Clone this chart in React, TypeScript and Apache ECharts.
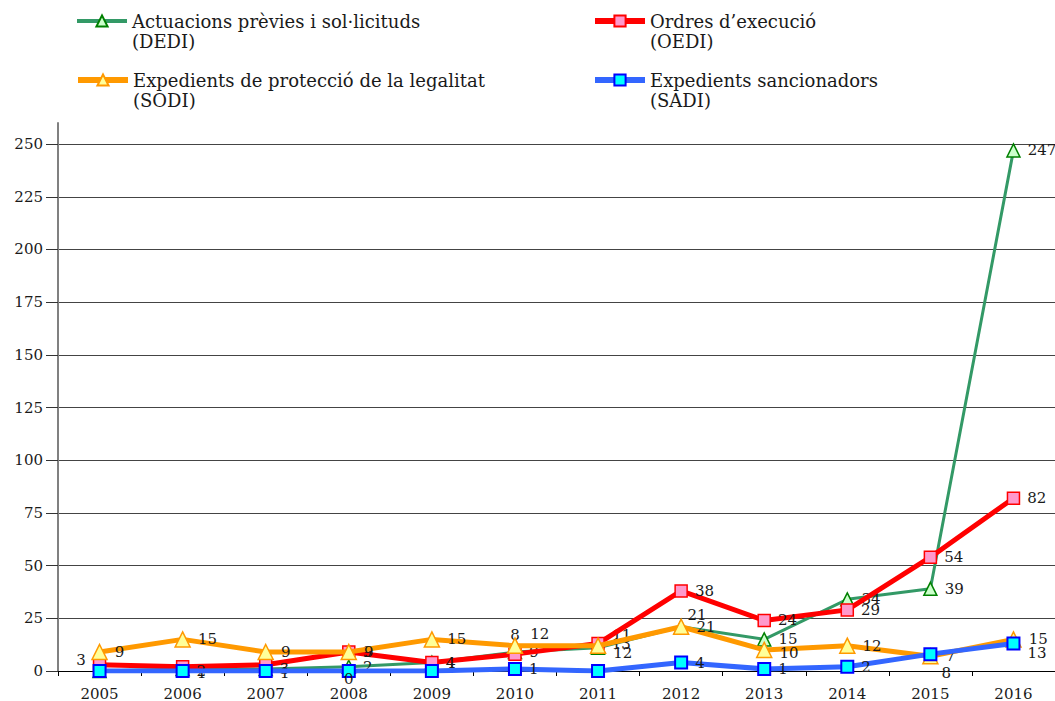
import { useEffect, useRef } from 'react';
import * as echarts from 'echarts';

const years = ['2005', '2006', '2007', '2008', '2009', '2010', '2011', '2012', '2013', '2014', '2015', '2016'];
const dediValues = [0, 1, 1, 2, 4, 9, 11, 21, 15, 34, 39, 247];
const oediValues = [3, 2, 3, 9, 4, 8, 13, 38, 24, 29, 54, 82];
const sodiValues = [9, 15, 9, 9, 15, 12, 12, 21, 10, 12, 7, 15];
const sadiValues = [0, 0, 0, 0, 0, 1, 0, 4, 1, 2, 8, 13];
const yTicks = [0, 25, 50, 75, 100, 125, 150, 175, 200, 225, 250];

const dediName = 'Actuacions prèvies i sol·licituds\n(DEDI)';
const oediName = 'Ordres d’execució\n(OEDI)';
const sodiName = 'Expedients de protecció de la legalitat\n(SODI)';
const sadiName = 'Expedients sancionadors\n(SADI)';

const FONT = 'DejaVu Serif';

type Tweak = { show?: boolean; position?: string; offset?: number[]; distance?: number };

const dediTweaks: Record<number, Tweak> = {
  0: { show: false },
  1: { offset: [0, 4] },
  2: { offset: [0, 4] },
  6: { offset: [0, -13] },
  7: { offset: [-8, -12] },
};
const oediTweaks: Record<number, Tweak> = {
  0: { position: 'left', offset: [0, -5] },
  1: { offset: [0, 4] },
  2: { offset: [0, 4] },
  5: { position: 'top', distance: 5 },
};
const sodiTweaks: Record<number, Tweak> = {
  5: { offset: [0, -12] },
  6: { offset: [0, 7] },
  8: { offset: [0, 3] },
};
const sadiTweaks: Record<number, Tweak> = {
  0: { show: false },
  1: { show: false },
  2: { show: false },
  3: { position: 'bottom', distance: 1, offset: [0, -8] },
  4: { show: false },
  6: { show: false },
  10: { position: 'bottom', offset: [16, -3] },
  11: { offset: [0, 9] },
};

function withLabels(values: number[], tweaks: Record<number, Tweak>) {
  return values.map((v, i) => (tweaks[i] ? { value: v, label: tweaks[i] } : v));
}

export default function App() {
  const ref = useRef<HTMLDivElement>(null);
  useEffect(() => {
    if (!ref.current) return;
    const chart = echarts.init(ref.current, undefined, { renderer: 'svg' });
    const label = {
      show: true,
      position: 'right',
      distance: 7,
      fontFamily: FONT,
      fontSize: 15,
      color: '#1a1a1a',
    };
    const legendBase = {
      orient: 'horizontal',
      padding: 0,
      itemWidth: 50,
      itemHeight: 14,
      itemGap: 4,
      selectedMode: false,
      formatter: (n: string) => '\n' + n,
      textStyle: { fontFamily: FONT, fontSize: 18, lineHeight: 20, color: '#1a1a1a' },
    };
    chart.setOption({
      animation: false,
      backgroundColor: '#ffffff',
      textStyle: { fontFamily: FONT },
      legend: [
        { ...legendBase, left: 75, top: -9, data: [dediName], lineStyle: { width: 4 } },
        { ...legendBase, left: 592, top: -9, data: [oediName], lineStyle: { width: 6 } },
        { ...legendBase, left: 75, top: 50, data: [sodiName], lineStyle: { width: 6 } },
        { ...legendBase, left: 592, top: 50, data: [sadiName], lineStyle: { width: 6 } },
      ],
      grid: { left: 58, top: 123, width: 998, bottom: 30, containLabel: false },
      xAxis: {
        type: 'category',
        data: years,
        boundaryGap: true,
        axisLine: { lineStyle: { color: '#000000', width: 1 } },
        axisTick: { show: true, length: 5, lineStyle: { color: '#000000' } },
        axisLabel: { fontFamily: FONT, fontSize: 15, color: '#1a1a1a', margin: 15 },
      },
      yAxis: {
        type: 'value',
        min: 0,
        max: 260,
        interval: 25,
        axisLine: { show: true, lineStyle: { color: '#808080', width: 2 } },
        axisTick: { show: true, length: 12, lineStyle: { color: '#333333' }, customValues: yTicks },
        axisLabel: {
          fontFamily: FONT,
          fontSize: 15,
          color: '#1a1a1a',
          margin: 15,
          customValues: yTicks,
        },
        splitLine: { show: true, lineStyle: { color: '#444444', width: 1 } },
      },
      series: [
        {
          name: dediName,
          type: 'line',
          data: withLabels(dediValues, dediTweaks),
          symbol: 'triangle',
          symbolSize: 13,
          lineStyle: { color: '#339966', width: 3 },
          itemStyle: { color: '#CCFFCC', borderColor: '#008000', borderWidth: 1.5 },
          label,
          z: 2,
        },
        {
          name: oediName,
          type: 'line',
          data: withLabels(oediValues, oediTweaks),
          symbol: 'rect',
          symbolSize: 12,
          lineStyle: { color: '#FF0000', width: 5 },
          itemStyle: { color: '#FF99CC', borderColor: '#FF0000', borderWidth: 1.5 },
          label,
          z: 3,
        },
        {
          name: sodiName,
          type: 'line',
          data: withLabels(sodiValues, sodiTweaks),
          symbol: 'triangle',
          symbolSize: 15,
          lineStyle: { color: '#FF9900', width: 5 },
          itemStyle: { color: '#FFFF99', borderColor: '#FF9900', borderWidth: 1.5 },
          label,
          z: 4,
        },
        {
          name: sadiName,
          type: 'line',
          data: withLabels(sadiValues, sadiTweaks),
          symbol: 'rect',
          symbolSize: 12,
          lineStyle: { color: '#3366FF', width: 5 },
          itemStyle: { color: '#00FFFF', borderColor: '#0000FF', borderWidth: 2 },
          label,
          z: 5,
        },
      ],
    });
    return () => chart.dispose();
  }, []);
  return (
    <div
      ref={ref}
      style={{ position: 'absolute', left: 0, top: 0, width: 1055, height: 701, background: '#fff' }}
    />
  );
}
